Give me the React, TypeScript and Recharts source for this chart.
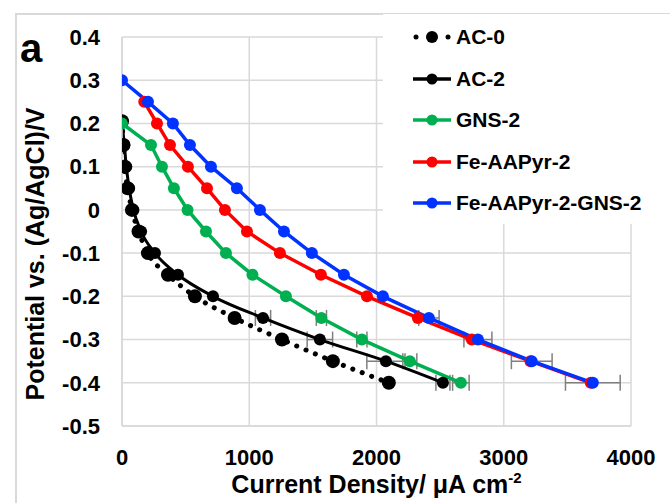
import React from 'react';
import { ComposedChart, Line, Scatter, ErrorBar, XAxis, YAxis, CartesianGrid, Legend } from 'recharts';

// potential levels (V vs Ag/AgCl), shared by all series
const potentialLevels = [0.3, 0.25, 0.2, 0.15, 0.1, 0.05, 0, -0.05, -0.1, -0.15, -0.2, -0.25, -0.3, -0.35, -0.4];
const acPotentials = [0.205, 0.15, 0.1, 0.05, 0, -0.05, -0.1, -0.15, -0.2, -0.25, -0.3, -0.35, -0.4];

// current density (uA cm-2)
const ac0Current = [0, 12, 22, 45, 78, 130, 204, 361, 573, 885, 1257, 1657, 2097];
const ac2Current = [0, 18, 34, 56, 90, 150, 259, 440, 715, 1108, 1555, 2074, 2522];
const gnsCurrent = [0, 228, 314, 408, 515, 660, 817, 1025, 1288, 1567, 1885, 2262, 2663];
const feCurrent = [175, 275, 377, 518, 668, 809, 982, 1241, 1563, 1925, 2325, 2749, 3210, 3684];
const feGnsCurrent = [0, 204, 400, 534, 699, 903, 1084, 1273, 1492, 1744, 2050, 2412, 2797, 3220, 3700];

// horizontal error bars on the last four points (-0.25 .. -0.4 V)
const ac2Err = [60, 100, 150, 55];
const gnsErr = [40, 40, 55, 65];
const feGnsErr = [80, 110, 160, 215];

const xTicks = [0, 1000, 2000, 3000, 4000];
const yTicks = [-0.5, -0.4, -0.3, -0.2, -0.1, 0, 0.1, 0.2, 0.3, 0.4];

const legendItems = [
  { name: 'AC-0', color: '#000000', dotted: true },
  { name: 'AC-2', color: '#000000', dotted: false },
  { name: 'GNS-2', color: '#00b050', dotted: false },
  { name: 'Fe-AAPyr-2', color: '#ff0000', dotted: false },
  { name: 'Fe-AAPyr-2-GNS-2', color: '#0033ff', dotted: false },
];

const toPoints = (xs: number[], ys: number[]) => xs.map((x, i) => ({ x, y: ys[i] }));
const tailErr = (xs: number[], ys: number[], errs: number[]) => {
  const n = xs.length;
  return errs.map((ex, i) => ({ x: xs[n - errs.length + i], y: ys[n - errs.length + i], ex }));
};

const ac0 = toPoints(ac0Current, acPotentials);
const ac2 = toPoints(ac2Current, acPotentials);
const gns = toPoints(gnsCurrent, potentialLevels.slice(2));
const fe = toPoints(feCurrent, potentialLevels.slice(1));
const feGns = toPoints(feGnsCurrent, potentialLevels);

const font = '"Liberation Sans", Arial, sans-serif';
const tickStyle = { fill: '#000', fontSize: 22, fontWeight: 'bold', fontFamily: font };

const LegendBox = () => (
  <div style={{ position: 'relative', width: 287, height: 210, background: '#fff', fontFamily: font }}>
    {legendItems.map((it, i) => (
      <div
        key={it.name}
        style={{ position: 'absolute', left: 30, top: 23 + i * 41.5 - 14, height: 28, display: 'flex', alignItems: 'center' }}
      >
        <svg width={40} height={20} style={{ marginRight: 3 }}>
          {it.dotted ? (
            <>
              <circle cx={3} cy={10} r={2.5} fill="#000" />
              <circle cx={19} cy={10} r={6} fill="#000" />
              <circle cx={35} cy={10} r={2.5} fill="#000" />
            </>
          ) : (
            <>
              <line x1={0} y1={10} x2={38} y2={10} stroke={it.color} strokeWidth={3.5} />
              <circle cx={19} cy={10} r={5.5} fill={it.color} />
            </>
          )}
        </svg>
        <span style={{ fontSize: 21, fontWeight: 'bold', color: '#000', whiteSpace: 'nowrap' }}>{it.name}</span>
      </div>
    ))}
  </div>
);

const App: React.FC = () => {
  const errStyle = { stroke: '#7f7f7f', strokeWidth: 1.5 };
  return (
    <div style={{ position: 'fixed', left: 0, top: 0, width: 670, height: 503, overflow: 'hidden', background: '#fff', fontFamily: font }}>
      <div style={{ position: 'absolute', left: 15, top: 13, width: 700, height: 600, border: '2px solid #d9d9d9' }} />
      <div style={{ position: 'absolute', left: 20, top: 28, fontSize: 40, lineHeight: '40px', fontWeight: 'bold' }}>a</div>
      <div style={{ position: 'absolute', left: 0, top: 0 }}>
        <ComposedChart width={670} height={503} margin={{ top: 37, right: 39, left: 0, bottom: 0 }}>
          <CartesianGrid stroke="#d9d9d9" strokeWidth={1.5} />
          <XAxis
            type="number"
            dataKey="x"
            domain={[0, 4000]}
            ticks={xTicks}
            allowDataOverflow
            height={77}
            tick={tickStyle}
            tickLine={false}
            tickSize={0}
            tickMargin={23}
            axisLine={{ stroke: '#d9d9d9', strokeWidth: 1.5 }}
          />
          <YAxis
            type="number"
            dataKey="y"
            domain={[-0.5, 0.4]}
            ticks={yTicks}
            allowDataOverflow
            width={122}
            tick={tickStyle}
            tickLine={false}
            tickSize={0}
            tickMargin={22}
            tickFormatter={(v: number) => (Math.abs(v) < 1e-9 ? '0' : v.toFixed(1))}
            axisLine={{ stroke: '#d9d9d9', strokeWidth: 1.5 }}
          />
          <Legend
            layout="horizontal"
            align="center"
            verticalAlign="middle"
            content={() => <LegendBox />}
            wrapperStyle={{ position: 'absolute', left: 383, top: 14, width: 287, height: 210 }}
          />
          <Scatter data={tailErr(ac2Current, acPotentials, ac2Err)} shape={() => <g />} isAnimationActive={false}>
            <ErrorBar dataKey="ex" direction="x" width={8} {...errStyle} />
          </Scatter>
          <Scatter data={tailErr(gnsCurrent, potentialLevels.slice(2), gnsErr)} shape={() => <g />} isAnimationActive={false}>
            <ErrorBar dataKey="ex" direction="x" width={8} {...errStyle} />
          </Scatter>
          <Scatter data={tailErr(feGnsCurrent, potentialLevels, feGnsErr)} shape={() => <g />} isAnimationActive={false}>
            <ErrorBar dataKey="ex" direction="x" width={8} {...errStyle} />
          </Scatter>
          <Line
            data={ac0}
            dataKey="y"
            type="monotone"
            stroke="#000"
            strokeWidth={5}
            strokeDasharray="0.1 10"
            strokeLinecap="round"
            dot={{ r: 7, fill: '#000', stroke: 'none' }}
            activeDot={false}
            isAnimationActive={false}
          />
          <Line
            data={ac2}
            dataKey="y"
            type="monotone"
            stroke="#000"
            strokeWidth={3}
            dot={{ r: 6, fill: '#000', stroke: 'none' }}
            activeDot={false}
            isAnimationActive={false}
          />
          <Line
            data={gns}
            dataKey="y"
            type="linear"
            stroke="#00b050"
            strokeWidth={3.5}
            dot={{ r: 6, fill: '#00b050', stroke: 'none' }}
            activeDot={false}
            isAnimationActive={false}
          />
          <Line
            data={fe}
            dataKey="y"
            type="linear"
            stroke="#ff0000"
            strokeWidth={3.5}
            dot={{ r: 6, fill: '#ff0000', stroke: 'none' }}
            activeDot={false}
            isAnimationActive={false}
          />
          <Line
            data={feGns}
            dataKey="y"
            type="linear"
            stroke="#0033ff"
            strokeWidth={3.5}
            dot={{ r: 6, fill: '#0033ff', stroke: 'none' }}
            activeDot={false}
            isAnimationActive={false}
          />
        </ComposedChart>
      </div>
      <div
        style={{
          position: 'absolute', left: 35, top: 254, transform: 'translate(-50%, -50%) rotate(-90deg)',
          fontSize: 25, fontWeight: 'bold', whiteSpace: 'nowrap', lineHeight: '25px',
        }}
      >
        Potential vs. (Ag/AgCl)/V
      </div>
      <div
        style={{
          position: 'absolute', left: 0, width: 753, top: 472, textAlign: 'center',
          fontSize: 25, fontWeight: 'bold', whiteSpace: 'nowrap', lineHeight: '25px',
        }}
      >
        Current Density/ μA cm<span style={{ fontSize: 15, position: 'relative', top: -10 }}>-2</span>
      </div>
    </div>
  );
};

export default App;
